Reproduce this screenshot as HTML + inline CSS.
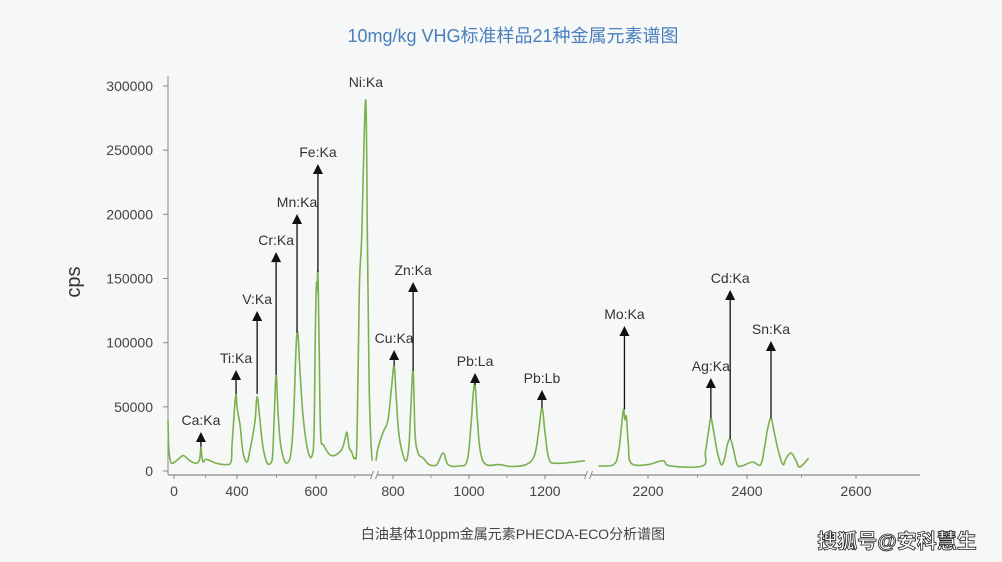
<!DOCTYPE html>
<html><head><meta charset="utf-8"><style>
body{margin:0;background:#f6f7f7;}
svg{display:block;font-family:"Liberation Sans","Noto Sans CJK SC",sans-serif;}
</style></head><body>
<svg id="chart" width="1002" height="562" viewBox="0 0 1002 562">
<rect width="1002" height="562" fill="#f6f7f7"/>
<text x="513" y="42" text-anchor="middle" font-size="18" fill="#4a80bd">10mg/kg VHG标准样品21种金属元素谱图</text>
<text x="513" y="539" text-anchor="middle" font-size="14" fill="#444">白油基体10ppm金属元素PHECDA-ECO分析谱图</text>
<text x="897" y="548" text-anchor="middle" font-size="20" font-weight="bold" fill="#fff" stroke="#222" stroke-width="0.8">搜狐号@安科慧生</text>
<text transform="translate(80,282) rotate(-90)" text-anchor="middle" font-size="20" fill="#333">cps</text>
<g id="axes"></g><g id="series"></g><g id="annos"></g>
</svg>
<script>
const yTicks=[0,50000,100000,150000,200000,250000,300000];
const xTickLabels=[0,400,600,800,1000,1200,2200,2400,2600];
const xMinorTicks=[200,500,700,900,1100,2300,2500];
const segA_E=[-38,-34,-25,-10,30,60,100,140,160,166,171,177,185,200,230,270,330,362,368,374,385,394,400,408,415,425,432,440,446,451,458,465,475,485,490,494,499,504,510,520,530,537,543,552,560,568,580,590,595,598,601,603,605,608,612,620,640,665,675,680,686,692,700,706,712,718,722,729,733,737,741,745];
const segA_V=[40000,20000,9000,6000,9500,12000,8000,6000,8000,12000,19000,11000,7000,9000,8000,6000,5000,7000,20000,30000,50000,60000,50000,35000,15000,7000,15000,28000,40000,58000,40000,20000,7000,6000,12000,40000,75000,45000,22000,8000,7000,15000,40000,108000,75000,40000,15000,12000,30000,100000,145000,140000,155000,100000,30000,20000,12000,16000,25000,30000,18000,15000,10000,25000,140000,180000,230000,288000,180000,75000,30000,8000];
const segB_E=[760,770,780,790,797,803,808,815,825,835,842,847,853,858,866,880,895,915,932,945,975,995,1005,1011,1016,1022,1030,1045,1080,1110,1150,1172,1183,1192,1200,1210,1230,1305];
const segB_V=[8000,18000,30000,40000,65000,82000,60000,30000,14000,8000,20000,50000,78000,30000,14000,10000,5000,5000,14000,5000,4000,8000,35000,60000,67000,40000,15000,5000,5000,3500,5000,12000,30000,49000,30000,10000,6000,8000];
const segC_E=[2099,2130,2140,2146,2150,2153,2156,2160,2166,2200,2230,2245,2310,2316,2322,2327,2333,2340,2348,2355,2360,2366,2372,2380,2390,2410,2425,2432,2438,2444,2450,2458,2466,2472,2481,2490,2497,2513];
const segC_V=[4000,5000,15000,35000,48000,40000,42000,20000,6000,5000,8000,4000,4000,15000,30000,41000,30000,15000,5000,10000,20000,25000,18000,5000,4000,7000,5000,18000,33000,41000,30000,15000,5000,10000,14000,8000,3000,10000];
const annoLabels=["Ca:Ka","Ti:Ka","V:Ka","Cr:Ka","Mn:Ka","Fe:Ka","Cu:Ka","Zn:Ka","Pb:La","Pb:Lb","Mo:Ka","Ag:Ka","Cd:Ka","Sn:Ka"];
const annoE=[171,394,451,499,552,605,803,853,1016,1192,2152,2327,2366,2444];
const annoPeak=[19000,60000,60000,75000,108000,155000,82000,78000,67000,49000,48000,41000,25000,41000];
const annoTip=[30400,78700,124700,170600,200300,239200,94300,147300,76400,63100,113000,72500,141000,101300];

const anchors=[[-100,174-15.75],[0,174],[400,237],[600,316],[750,374],[770,378],[800,393],[1000,469],[1200,545],[1310,587],[2090,594],[2200,648],[2400,747],[2600,856],[2800,965]];
function xS(e){for(let i=0;i<anchors.length-1;i++){const a=anchors[i],b=anchors[i+1];if(e<=b[0]||i==anchors.length-2)return a[1]+(e-a[0])/(b[0]-a[0])*(b[1]-a[1]);}}
function yS(v){return 471-v/300000*385;}
function smooth(pts){let d='M'+pts[0][0].toFixed(1)+','+pts[0][1].toFixed(1);
for(let i=0;i<pts.length-1;i++){const p0=pts[Math.max(0,i-1)],p1=pts[i],p2=pts[i+1],p3=pts[Math.min(pts.length-1,i+2)];
const t=0.18;const c1=[p1[0]+(p2[0]-p0[0])*t,p1[1]+(p2[1]-p0[1])*t],c2=[p2[0]-(p3[0]-p1[0])*t,p2[1]-(p3[1]-p1[1])*t];
d+='C'+c1.map(n=>n.toFixed(1)).join(',')+' '+c2.map(n=>n.toFixed(1)).join(',')+' '+p2[0].toFixed(1)+','+p2[1].toFixed(1);}
return d;}
const NS="http://www.w3.org/2000/svg";
function mk(t,at,p){const el=document.createElementNS(NS,t);for(const k in at)el.setAttribute(k,at[k]);p.appendChild(el);return el;}
const ax=document.getElementById('axes'),se=document.getElementById('series'),an=document.getElementById('annos');
let l=mk('line',{x1:168,y1:76,x2:168,y2:475,stroke:'#888','stroke-width':1},ax);


[[168,372],[377,586],[591,920]].forEach((s,i)=>{const a=mk('line',{x1:s[0],y1:475,x2:s[1],y2:475,stroke:'#888','stroke-width':1.2},ax);

});
[372,377,586,591].forEach(x=>{const b=mk('line',{x1:x-1.5,y1:479,x2:x+1.5,y2:471,stroke:'#888'},ax);

});
yTicks.forEach(v=>{const y=yS(v);mk('line',{x1:163,y1:y,x2:168,y2:y,stroke:'#888'},ax);
const t=mk('text',{x:153,y:y+5,'text-anchor':'end','font-size':14,fill:'#444'},ax);t.textContent=v;

});
xTickLabels.forEach(v=>{const x=xS(v);mk('line',{x1:x,y1:475,x2:x,y2:479,stroke:'#888'},ax);
const t=mk('text',{x:x,y:496,'text-anchor':'middle','font-size':14,fill:'#444'},ax);t.textContent=v;

});
xMinorTicks.forEach(v=>{const x=xS(v);const m=mk('line',{x1:x,y1:475,x2:x,y2:478,stroke:'#999'},ax);

});
[[segA_E,segA_V],[segB_E,segB_V],[segC_E,segC_V]].forEach((s,i)=>{const pts=s[0].map((e,j)=>[xS(e),yS(s[1][j])]);
const p=mk('path',{d:smooth(pts),fill:'none',stroke:'#7cb04f','stroke-width':1.6,'stroke-linejoin':'round'},se);

});
annoLabels.forEach((lab,i)=>{const x=xS(annoE[i]),yt=yS(annoTip[i]),yp=yS(annoPeak[i]);
const g=mk('g',{},an);


mk('line',{x1:x,y1:yt+8,x2:x,y2:yp,stroke:'#111','stroke-width':1.3},g);
mk('path',{d:`M${x},${yt}L${x-5},${yt+10}L${x+5},${yt+10}Z`,fill:'#111'},g);
const t=mk('text',{x:x,y:yt-7,'text-anchor':'middle','font-size':14,fill:'#333'},g);t.textContent=lab;});
const ni=mk('text',{x:xS(729),y:87,'text-anchor':'middle','font-size':14,fill:'#333'},an);ni.textContent='Ni:Ka';


</script>
</body></html>
